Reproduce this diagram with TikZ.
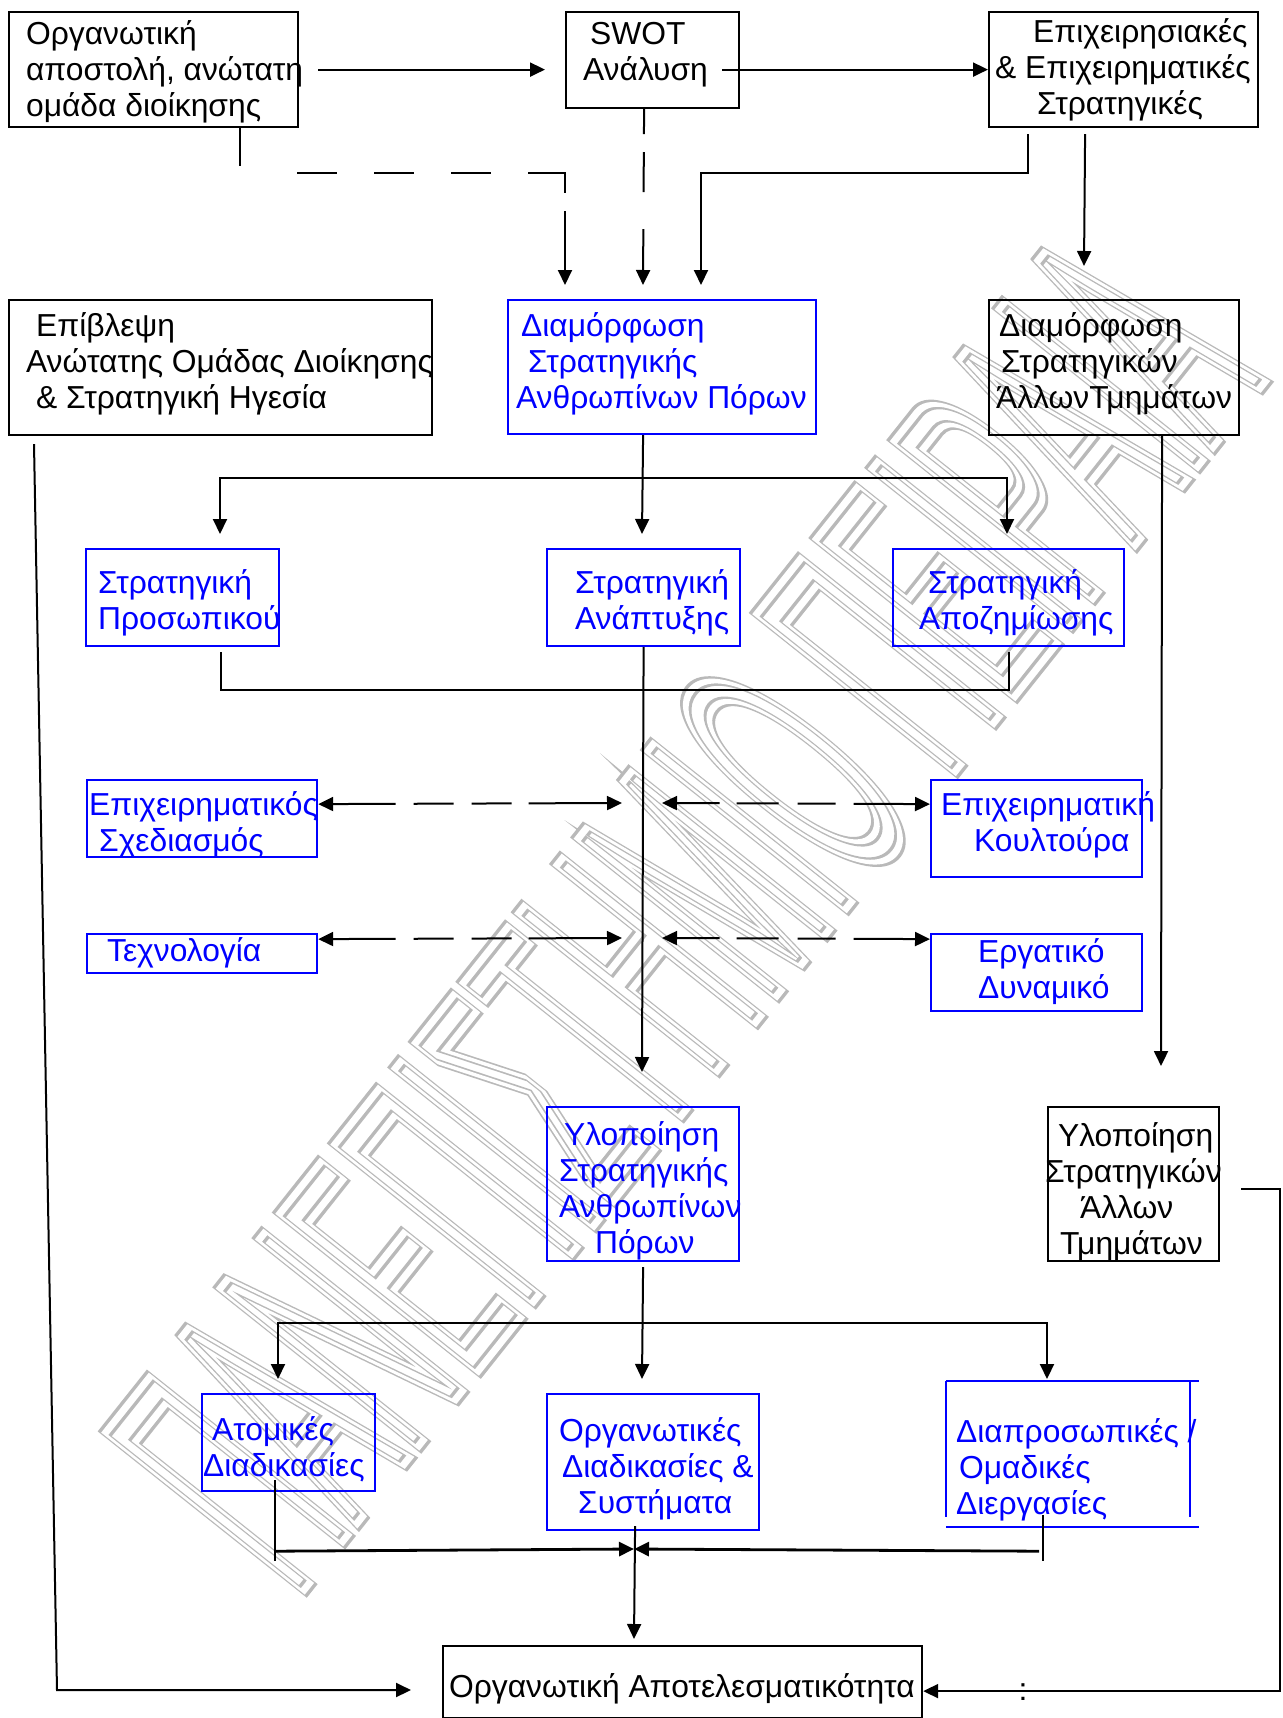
\documentclass[tikz,border=0pt]{standalone}
\usepackage{fontspec}
\setmainfont{Liberation Sans}
\usetikzlibrary{arrows.meta}
\definecolor{hrblue}{RGB}{0,0,255}
\definecolor{wmgray}{RGB}{185,185,185}
% text block of a box: width #1 pt, lifted by #2 pt, lines #3
\newcommand\boxtxt[3]{\makebox[#1pt][l]{\raisebox{#2pt}[\height][\depth]{%
  \begin{tabular}{@{}l@{}}#3\end{tabular}}}}
\newcommand\ind[1]{\hspace*{#1pt}}
\begin{document}
\begin{tikzpicture}[x=0.5pt,y=-0.5pt,
  box/.style={draw, line width=1.1pt, inner sep=0pt, anchor=north west,
    font=\fontsize{15.9}{18}\selectfont},
  bbox/.style={box, draw=black, text=black},
  hbox/.style={box, draw=hrblue, text=hrblue},
  conn/.style={line width=1pt},
  tip/.style={-{Triangle[length=7.5pt,width=7pt]}},
  both/.style={{Triangle[length=7.5pt,width=7pt]}-{Triangle[length=7.5pt,width=7pt]}},
  wm/.style={rotate=51.5, xscale=0.36, anchor=base west, inner sep=0pt,
    font=\fontsize{184}{184}\selectfont}
]
\useasboundingbox (0,0) rectangle (1282,1718);

% watermark lettering (outlined)
\node[wm, text=wmgray] (wmouter) at (296,1600)
  {\special{pdf:literal direct 1 Tr 7 w}ΠΑΝΕΠΙΣΤΗΜΙΟ ΠΕΙΡΑΙΑ\special{pdf:literal direct 0 Tr}};
\node[wm, text=white] (wminner) at (296,1600)
  {\special{pdf:literal direct 1 Tr 3.5 w}ΠΑΝΕΠΙΣΤΗΜΙΟ ΠΕΙΡΑΙΑ\special{pdf:literal direct 0 Tr}};

% top row
\node[bbox, minimum width=144.5pt, minimum height=57.5pt] (mission) at (8,11)
  {\boxtxt{144.5}{-1.9}{\ind{8.5}Οργανωτική\\\ind{8.5}αποστολή, ανώτατη\\\ind{8.5}ομάδα διοίκησης}};
\node[bbox, minimum width=86.5pt, minimum height=48pt] (swot) at (565,11)
  {\boxtxt{86.5}{2.5}{\ind{12}SWOT\\\ind{8.5}Ανάλυση}};
\node[bbox, minimum width=134.5pt, minimum height=57.5pt] (corp) at (988,11)
  {\boxtxt{134.5}{-1}{\ind{22}Επιχειρησιακές\\\ind{3}\& Επιχειρηματικές\\\ind{24}Στρατηγικές}};

% formulation row
\node[bbox, minimum width=211.5pt, minimum height=67.5pt] (oversight) at (8,299)
  {\boxtxt{211.5}{1.1}{\ind{13.5}Επίβλεψη\\\ind{8.5}Ανώτατης Ομάδας Διοίκησης\\\ind{13.5}\& Στρατηγική Ηγεσία}};
\node[hbox, minimum width=154pt, minimum height=67pt] (hrform) at (507,299)
  {\boxtxt{154}{1.1}{\ind{6.5}Διαμόρφωση\\\ind{10}Στρατηγικής\\\ind{4}Ανθρωπίνων Πόρων}};
\node[bbox, minimum width=125pt, minimum height=67.5pt] (otherform) at (988,299)
  {\boxtxt{125}{1.1}{\ind{5}Διαμόρφωση\\\ind{6}Στρατηγικών\\\ind{3.5}ΆλλωνΤμημάτων}};

% HR strategies
\node[hbox, minimum width=96.5pt, minimum height=48.5pt] (staff) at (85,548)
  {\boxtxt{96.5}{-3.2}{\ind{6}Στρατηγική\\\ind{6}Προσωπικού}};
\node[hbox, minimum width=96.5pt, minimum height=48.5pt] (develop) at (546,548)
  {\boxtxt{96.5}{-3.2}{\ind{14}Στρατηγική\\\ind{14}Ανάπτυξης}};
\node[hbox, minimum width=115.5pt, minimum height=48.5pt] (comp) at (892,548)
  {\boxtxt{115.5}{-3.2}{\ind{17.5}Στρατηγική\\\ind{13}Αποζημίωσης}};

% surrounding factors
\node[hbox, minimum width=115pt, minimum height=38.5pt] (plan) at (86,779)
  {\boxtxt{115}{-3.8}{\ind{1}Επιχειρηματικός\\\ind{6}Σχεδιασμός}};
\node[hbox, minimum width=105.5pt, minimum height=48.5pt] (culture) at (930,779)
  {\boxtxt{105.5}{1.4}{\ind{5}Επιχειρηματική\\\ind{21.5}Κουλτούρα}};
\node[hbox, minimum width=115pt, minimum height=19.5pt] (tech) at (86,933)
  {\boxtxt{115}{-0.5}{\ind{10}Τεχνολογία}};
\node[hbox, minimum width=105.5pt, minimum height=38.5pt] (work) at (930,933)
  {\boxtxt{105.5}{-0.5}{\ind{23.5}Εργατικό\\\ind{23.5}Δυναμικό}};

% implementation
\node[hbox, minimum width=96pt, minimum height=77pt] (hrimpl) at (546,1106)
  {\boxtxt{96}{-4.3}{\ind{8.5}Υλοποίηση\\\ind{6}Στρατηγικής\\\ind{6}Ανθρωπίνων\\\ind{24}Πόρων}};
\node[bbox, minimum width=85.5pt, minimum height=77pt] (otherimpl) at (1047,1106)
  {\boxtxt{85.5}{-4.5}{\ind{5}Υλοποίηση\\\hspace*{-1.5pt}Στρατηγικών\\\ind{16}Άλλων\\\ind{6}Τμημάτων}};

% processes
\node[hbox, minimum width=86.5pt, minimum height=48.5pt] (indiv) at (201,1393)
  {\boxtxt{86.5}{-4.3}{\ind{5}Ατομικές\\\ind{0.5}Διαδικασίες}};
\node[hbox, minimum width=106pt, minimum height=68pt] (orgproc) at (546,1393)
  {\boxtxt{106}{-4}{\ind{6}Οργανωτικές\\\ind{7.5}Διαδικασίες \&\\\ind{15.5}Συστήματα}};
\node[box, draw=none, text=hrblue, minimum width=121pt, minimum height=72pt] (group) at (946,1381)
  {\boxtxt{121}{-8.5}{\ind{4.5}Διαπροσωπικές /\\\ind{6}Ομαδικές\\\ind{4.5}Διεργασίες}};
% frame of the group box, with its slightly overhanging top and bottom rules
\draw[line width=1.1pt, hrblue] (group.north west) -- ([xshift=4.5pt]group.north east);
\draw[line width=1.1pt, hrblue] (group.south west) -- ([xshift=4.5pt]group.south east);
\draw[line width=1.1pt, hrblue] (group.north west) -- ([yshift=5pt]group.south west);
\draw[line width=1.1pt, hrblue] (group.north east) -- ([yshift=5pt]group.south east);

% outcome
\node[bbox, minimum width=239.5pt, minimum height=36pt] (effect) at (442,1645)
  {\boxtxt{239.5}{-4.3}{\ind{3}Οργανωτική Αποτελεσματικότητα}};
\node[font=\fontsize{15.9}{18}\selectfont, inner sep=0pt] (colon) at (1023,1692) {:};

% free ends of connectors
\coordinate (hrinA) at (565,285);
\coordinate (hrinB) at (643,285);
\coordinate (hrinC) at (701,285);
\coordinate (otherin) at (1084,266);
\coordinate (split1) at (642,478);
\coordinate (staffin) at (220,534);
\coordinate (devin) at (642,534);
\coordinate (compin) at (1007,534);
\coordinate (hubL1) at (622,803);
\coordinate (hubR1) at (662,803);
\coordinate (hubL2) at (622,938);
\coordinate (hubR2) at (662,938);
\coordinate (implin) at (642,1072);
\coordinate (otherimplin) at (1161,1066);
\coordinate (split2) at (642,1323);
\coordinate (indivin) at (278,1379);
\coordinate (orgin) at (642,1379);
\coordinate (groupin) at (1047,1379);
\coordinate (meet) at (634,1549);
\coordinate (effectin) at (634,1639);
\coordinate (leftcorner) at (57,1690);
\coordinate (effin) at (411,1690);

% top connectors
\draw[conn,tip] ([xshift=9.5pt]mission.east) -- ([xshift=-10pt]mission.east -| swot.west);
\draw[conn,tip] ([xshift=-9pt]swot.east |- corp.west) -- (corp.west);
\draw[conn,tip,dash pattern=on 19pt off 32pt on 20pt off 18.5pt on 20pt off 18.5pt on 20pt off 18.5pt on 28.5pt off 9pt on 200pt]
  ([xshift=43.25pt]mission.south) -- ++(0,45) -| (hrinA);
\draw[conn,tip,dash pattern=on 12.5pt off 9pt on 20pt off 18.5pt on 200pt]
  ([xshift=-4.25pt]swot.south) -- (hrinB);
\draw[conn,tip] ([xshift=-47.75pt,yshift=-3pt]corp.south) -- ++(0,39) -| (hrinC);
\draw[conn,tip] ([xshift=-19.25pt,yshift=-3pt]corp.south) -- (otherin);

% formulation to strategies
\draw[conn,tip] ([xshift=-9.5pt]hrform.south) -- (devin);
\draw[conn,tip] (split1) -| (staffin);
\draw[conn,tip] (split1) -| (compin);
\draw[conn] ([xshift=19.25pt,yshift=-2.5pt]staff.south) -- ++(0,38) -| ([yshift=-2.5pt]comp.south);
\draw[conn,tip] (develop.south) -- (implin);

% factors
\draw[conn,both,dash pattern=on 31.5pt off 9pt on 20pt off 9pt on 20pt off 8.5pt on 100pt]
  ([yshift=7.25pt]plan.east) -- (hubL1);
\draw[conn,both,dash pattern=on 21.5pt off 8.5pt on 21pt off 9.5pt on 19pt off 9pt on 100pt]
  (hubR1) -- ([yshift=12.25pt]culture.west);
\draw[conn,both,dash pattern=on 31.5pt off 9pt on 20pt off 9pt on 20pt off 8.5pt on 100pt]
  ([yshift=7.25pt]tech.east) -- (hubL2);
\draw[conn,both,dash pattern=on 21.5pt off 8.5pt on 21pt off 9.5pt on 19pt off 9pt on 100pt]
  (hubR2) -- ([yshift=16.75pt]work.west);

% other departments
\draw[conn,tip] ([xshift=24pt]otherform.south) -- (otherimplin);
\draw[conn,tip] ([xshift=10.5pt,yshift=-2.5pt]otherimpl.east) -- ++(39,0) |- ([yshift=-4.5pt]effect.east);

% implementation to processes
\draw[conn,tip] ([yshift=-2.5pt]hrimpl.south) -- (orgin);
\draw[conn,tip] (split2) -| (indivin);
\draw[conn,tip] (split2) -| (groupin);

% processes to outcome
\draw[conn] ([xshift=-6.75pt,yshift=6pt]indiv.south) -- ++(0,81);
\draw[line width=1.4pt,tip] ([xshift=-6.75pt,yshift=-29.5pt]indiv.south) -- (meet);
\draw[conn] ([xshift=-12.5pt,yshift=6pt]group.south) -- ++(0,46);
\draw[line width=1.4pt,tip] ([xshift=-14.5pt,yshift=-12pt]group.south) -- (meet);
\draw[conn,tip] ([xshift=-9pt,yshift=2.5pt]orgproc.south) -- (effectin);

% oversight to outcome
\draw[conn,tip] ([xshift=13pt,yshift=-4pt]oversight.south west) -- (leftcorner) -- (effin);
\end{tikzpicture}
\end{document}
